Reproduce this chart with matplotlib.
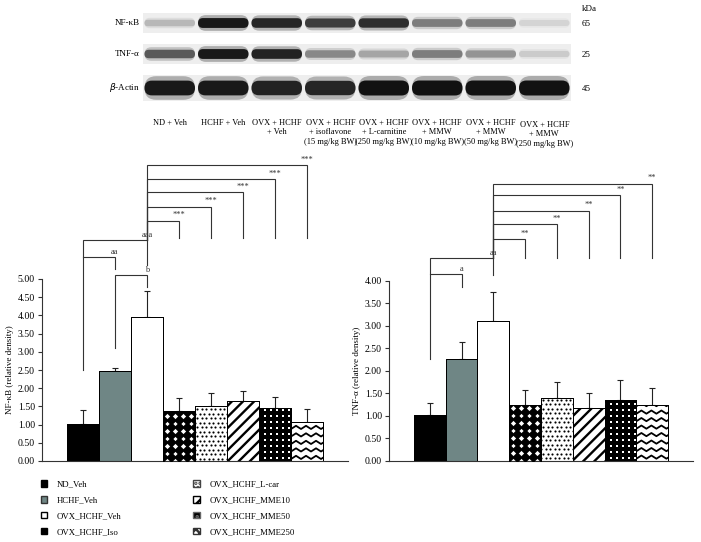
import numpy as np
import matplotlib.pyplot as plt
from matplotlib.patches import FancyBboxPatch, Rectangle, Patch

plt.rcParams['font.family'] = ['Liberation Serif', 'DejaVu Serif']
plt.rcParams['hatch.linewidth'] = 1.7

# ---------------------------------------------------------------- data
groups = ['ND_Veh', 'HCHF_Veh', 'OVX_HCHF_Veh', 'OVX_HCHF_Iso',
          'OVX_HCHF_L-car', 'OVX_HCHF_MME10', 'OVX_HCHF_MME50', 'OVX_HCHF_MME250']

nfkb_mean = [1.03, 2.47, 3.96, 1.38, 1.50, 1.64, 1.46, 1.08]
nfkb_err = [0.38, 0.09, 0.72, 0.36, 0.36, 0.27, 0.31, 0.36]
tnf_mean = [1.01, 2.25, 3.11, 1.23, 1.39, 1.18, 1.36, 1.23]
tnf_err = [0.28, 0.38, 0.65, 0.35, 0.37, 0.33, 0.44, 0.39]

# (from bar, to bar, top, left leg bottom, right leg bottom, label)
nfkb_brackets = [
    (0, 2, 6.07, 2.50, 5.38, 'aaa'),
    (0, 1, 5.60, 5.60, 5.27, 'aa'),
    (1, 2, 5.11, 3.10, 4.78, 'b'),
    (2, 3, 6.60, 6.07, 6.13, '***'),
    (2, 4, 6.99, 6.07, 6.13, '***'),
    (2, 5, 7.38, 6.07, 6.13, '***'),
    (2, 6, 7.74, 6.07, 6.13, '***'),
    (2, 7, 8.13, 6.07, 6.13, '***'),
]
tnf_brackets = [
    (0, 2, 4.50, 2.27, 4.13, 'aa'),
    (0, 1, 4.15, 4.15, 3.86, 'a'),
    (2, 3, 4.92, 4.50, 4.50, '**'),
    (2, 4, 5.25, 4.50, 4.50, '**'),
    (2, 5, 5.56, 4.50, 4.50, '**'),
    (2, 6, 5.90, 4.50, 4.50, '**'),
    (2, 7, 6.16, 4.50, 4.50, '**'),
]

# western blot lanes and band darkness (0 = none, 1 = saturated)
lane_labels = ['ND + Veh', 'HCHF + Veh', 'OVX + HCHF\n+ Veh',
               'OVX + HCHF\n+ isoflavone\n(15 mg/kg BW)',
               'OVX + HCHF\n+ L-carnitine\n(250 mg/kg BW)',
               'OVX + HCHF\n+ MMW\n(10 mg/kg BW)',
               'OVX + HCHF\n+ MMW\n(50 mg/kg BW)',
               'OVX + HCHF\n+ MMW\n(250 mg/kg BW)']
proteins = ['NF-κB', 'TNF-α', r'$\beta$-Actin']
kda = ['65', '25', '45']
nfkb_band = [0.30, 0.97, 0.92, 0.82, 0.88, 0.55, 0.55, 0.18]
tnf_band = [0.70, 0.97, 0.93, 0.50, 0.38, 0.55, 0.45, 0.22]
actin_band = [0.97, 0.97, 0.93, 0.92, 1.00, 1.00, 1.00, 1.00]

W, H = 701, 542
fig = plt.figure(figsize=(W / 100, H / 100), dpi=100)

# ---------------------------------------------------------------- blot
axb = fig.add_axes([0, 1 - 160 / H, 1, 160 / H])
axb.set_xlim(0, W)
axb.set_ylim(160, 0)
axb.axis('off')

blot_x0, blot_x1 = 143, 571
lane_w = (blot_x1 - blot_x0) / len(lane_labels)
strip_y = [23, 54, 88]
strip_h = [20, 20, 26]
band_h = [10, 10, 15]
for k, bands in enumerate([nfkb_band, tnf_band, actin_band]):
    yc = strip_y[k]
    axb.add_patch(Rectangle((blot_x0, yc - strip_h[k] / 2), blot_x1 - blot_x0,
                            strip_h[k], fc='#eeeeee', ec='none'))
    for i, v in enumerate(bands):
        x0 = blot_x0 + i * lane_w + 1.5
        h = band_h[k] * (0.5 + 0.5 * v)
        g = 1 - 0.93 * v
        for scale, alpha in [(1.6, 0.3), (1.0, 1.0)]:
            hh = h * scale
            axb.add_patch(FancyBboxPatch(
                (x0, yc - hh / 2), lane_w - 3, hh,
                boxstyle=f'round,pad=0,rounding_size={hh / 2:.2f}',
                fc=str(g), ec='none', alpha=alpha))
    axb.text(140, yc, proteins[k], ha='right', va='center', fontsize=6.5)
    axb.text(582, yc + 1, kda[k], ha='left', va='center', fontsize=6.5)
axb.text(582, 9, 'kDa', ha='left', va='center', fontsize=6.5)

for i, lab in enumerate(lane_labels):
    xc = blot_x0 + (i + 0.5) * lane_w
    y0 = 119 if i < 7 else 121
    axb.text(xc, y0, lab, ha='center', va='top', fontsize=6,
             linespacing=1.25)


# ---------------------------------------------------------------- bars
def px_scale(ax):
    pos = ax.get_position()
    x0, x1 = ax.get_xlim()
    y0, y1 = ax.get_ylim()
    return pos.width * W / (x1 - x0), pos.height * H / (y1 - y0)


def grid_points(bar, ax, sx, sy, stagger=False):
    kx, ky = px_scale(ax)
    xl, w, h = bar.get_x(), bar.get_width(), bar.get_height()
    pts = []
    r = 0
    y = sy / 2 / ky
    while y < h + sy / ky:
        off = (sx / 2 if (stagger and r % 2) else 0) / kx
        x = xl + off
        while x < xl + w + sx / kx:
            pts.append((x, y))
            x += sx / kx
        y += sy / ky
        r += 1
    return np.array(pts)


def draw_bars(ax, means, errs, brackets, ylab, ytop):
    x = np.arange(len(means))
    ax.set_xlim(-1.28, len(means) - 1 + 1.28)
    ax.set_ylim(0, ytop)
    colors = ['black', '#6f8685', 'white', 'white', 'white', 'white', 'black', 'white']
    hatches = [None, None, None, None, None, '///', None, None]
    bars = ax.bar(x, means, width=1, color=colors, edgecolor='black',
                  linewidth=0.7, zorder=2)
    for b, hch in zip(bars, hatches):
        if hch:
            b.set_hatch(hch)

    # Iso: black diamonds
    b = bars[3]
    p = grid_points(b, ax, 8, 7.5)
    sc = ax.scatter(p[:, 0], p[:, 1], marker='D', s=30, c='black',
                    linewidths=0, zorder=3)
    sc.set_clip_path(b)
    # L-car: black dots
    b = bars[4]
    p = grid_points(b, ax, 4.5, 4.5, stagger=True)
    sc = ax.scatter(p[:, 0], p[:, 1], marker='o', s=2.4, c='black',
                    linewidths=0, zorder=3)
    sc.set_clip_path(b)
    # MME50: white dots on black
    b = bars[6]
    p = grid_points(b, ax, 6, 6)
    sc = ax.scatter(p[:, 0], p[:, 1], marker='s', s=1.2, c='white',
                    linewidths=0, zorder=3)
    sc.set_clip_path(b)
    # MME250: zigzag lines
    b = bars[7]
    kx, ky = px_scale(ax)
    xl, w, h = b.get_x(), b.get_width(), b.get_height()
    xs = np.arange(xl, xl + w + 6 / kx, 5 / kx)
    yy = 2 / ky
    while yy < h + 4 / ky:
        ys = yy + np.where(np.arange(len(xs)) % 2, 3.2 / ky, 0)
        ln, = ax.plot(xs, ys, color='black', lw=1.3, zorder=3)
        ln.set_clip_path(b)
        yy += 7.5 / ky
    # redraw outlines on top of patterns
    ax.bar(x, means, width=1, color='none', edgecolor='black',
           linewidth=0.7, zorder=4)

    ax.errorbar(x, np.array(means), yerr=[np.zeros(len(errs)), errs],
                fmt='none', ecolor='#222222', elinewidth=0.8, capsize=2.2,
                capthick=0.8, zorder=1)

    for a, bb, top, lb, rb, lab in brackets:
        ax.plot([a, a, bb, bb], [lb, top, top, rb], color='#333333',
                lw=0.8, clip_on=False, zorder=1, solid_joinstyle='miter')
        ax.text(bb, top + 0.04 * ytop / 5, lab, ha='center', va='bottom',
                fontsize=6, clip_on=False, color='#333333')

    ticks = np.arange(0, ytop + 0.01, 0.5)
    ax.set_yticks(ticks)
    ax.set_yticklabels([f'{t:.2f}' for t in ticks])
    ax.set_xticks([])
    ax.set_ylabel(ylab, fontsize=6.5, labelpad=3)
    for s in ['top', 'right']:
        ax.spines[s].set_visible(False)
    for s in ['left', 'bottom']:
        ax.spines[s].set_linewidth(0.8)
        ax.spines[s].set_color('#333333')
    ax.tick_params(axis='y', direction='out', length=3, width=0.8,
                   labelsize=7, pad=2, color='#333333')
    return bars


ax1 = fig.add_axes([42 / W, (H - 461) / H, 306 / W, 182 / H])
draw_bars(ax1, nfkb_mean, nfkb_err, nfkb_brackets,
          'NF-κB (relative density)', 5)
ax2 = fig.add_axes([389 / W, (H - 460.7) / H, 304 / W, 180 / H])
draw_bars(ax2, tnf_mean, tnf_err, tnf_brackets,
          'TNF-α (relative density)', 4)

# ---------------------------------------------------------------- legend
handles = [
    Patch(fc='black', ec='black'),
    Patch(fc='#6f8685', ec='#333333'),
    Patch(fc='white', ec='black'),
    Patch(fc='black', ec='black'),
    Patch(fc='white', ec='#444444', hatch='....'),
    Patch(fc='white', ec='black', hatch='//'),
    Patch(fc='black', ec='#666666', hatch='...'),
    Patch(fc='white', ec='#333333', hatch='xxxx'),
]
fig.legend(handles, groups, ncol=2, loc='upper left',
           bbox_to_anchor=(37 / W, 1 - 477 / H), frameon=False, fontsize=6.3,
           handlelength=0.75, handleheight=0.75, handletextpad=1.1,
           labelspacing=0.85, columnspacing=8.2, borderaxespad=0)

fig.savefig('out.png', dpi=100)
